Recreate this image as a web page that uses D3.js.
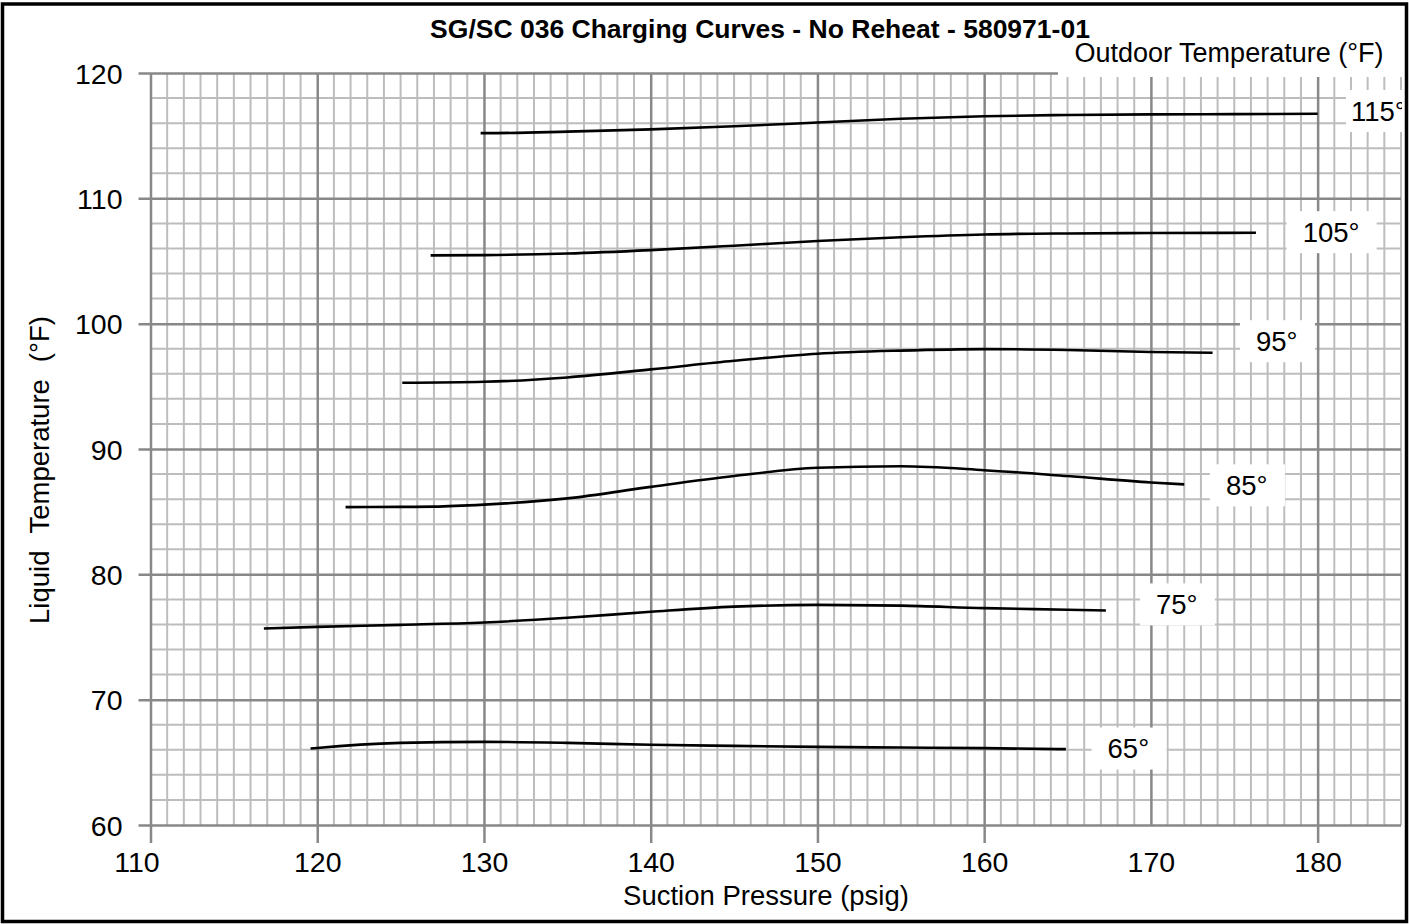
<!DOCTYPE html>
<html>
<head>
<meta charset="utf-8">
<script src="https://cdn.jsdelivr.net/npm/d3@7"></script>
<style>
  html, body { margin: 0; padding: 0; background: #fff; }
  svg { display: block; font-family: "Liberation Sans", Arial, sans-serif; }
</style>
</head>
<body>
<svg id="chart" width="1409" height="924"></svg>
<script>
// ---------------- data ----------------
const title = "SG/SC 036 Charging Curves - No Reheat - 580971-01";
const xTitle = "Suction Pressure (psig)";
const yTitleWords = ["Liquid", "Temperature", "(°F)"];
const legendTitle = "Outdoor Temperature (°F)";

const xTicks = [110, 120, 130, 140, 150, 160, 170, 180];
const yTicks = [60, 70, 80, 90, 100, 110, 120];

const outdoorTemps = ["115", "105°", "95°", "85°", "75°", "65°"];

// suction pressure (psig) of each curve point
const pressure115 = [129.8, 130, 135, 140, 145, 150, 155, 160, 165, 170, 175, 180];
const liquid115   = [115.2, 115.2, 115.32, 115.5, 115.75, 116.05, 116.35, 116.55, 116.65, 116.7, 116.72, 116.75];

const pressure105 = [126.8, 130, 135, 140, 145, 150, 155, 160, 165, 170, 176.3];
const liquid105   = [105.45, 105.47, 105.6, 105.87, 106.22, 106.6, 106.9, 107.12, 107.2, 107.23, 107.25];

const pressure95 = [125.1, 130, 135, 140, 145, 150, 155, 160, 165, 170, 173.7];
const liquid95   = [95.28, 95.36, 95.71, 96.35, 97.04, 97.6, 97.85, 97.97, 97.9, 97.74, 97.68];

const pressure85 = [121.7, 125, 127, 130, 135, 140, 145, 150, 155, 160, 165, 170, 172];
const liquid85   = [85.36, 85.38, 85.4, 85.56, 86.06, 86.98, 87.84, 88.5, 88.62, 88.31, 87.84, 87.33, 87.18];

const pressure75 = [116.8, 120, 125, 130, 135, 140, 145, 150, 155, 160, 165, 167.3];
const liquid75   = [75.68, 75.81, 75.97, 76.16, 76.53, 77.01, 77.42, 77.56, 77.5, 77.3, 77.18, 77.12];

const pressure65 = [119.6, 120, 125, 130, 135, 140, 145, 150, 155, 160, 164.9];
const liquid65   = [66.1, 66.15, 66.55, 66.63, 66.55, 66.4, 66.31, 66.23, 66.18, 66.13, 66.05];

// where each outdoor-temperature label sits (psig of its left edge, °F of its centre)
const labelPressure = [182.0, 179.1, 176.3, 174.5, 170.3, 167.4];
const labelLiquid   = [116.97, 107.3, 98.6, 87.1, 77.6, 66.1];

// ---------------- drawing ----------------
const W = 1409, H = 924;
const margin = { left: 150.5, right: 8, top: 73, bottom: 99 };
const svg = d3.select("#chart");

const x = d3.scaleLinear().domain([110, 185]).range([margin.left, W - margin.right]);
const y = d3.scaleLinear().domain([60, 120]).range([H - margin.bottom, margin.top]);

const x0 = x(110), x1 = x(185), y0 = y(60), y1 = y(120);

svg.append("defs").append("clipPath").attr("id", "plotclip")
  .append("rect").attr("x", x0).attr("y", y1 - 30).attr("width", x1 - x0 + 1).attr("height", y0 - y1 + 30);

const grid = svg.append("g");

// minor vertical lines (every 1 psig)
const minorX = d3.range(111, 186).filter(v => v % 10 !== 0);
grid.selectAll(".vminor").data(minorX).join("line")
  .attr("x1", d => x(d)).attr("x2", d => x(d))
  .attr("y1", y1).attr("y2", y0)
  .attr("stroke", "#bdbdbd").attr("stroke-width", 2);

// minor horizontal lines (every 2 °F)
const minorY = d3.range(62, 120, 2).filter(v => v % 10 !== 0);
grid.selectAll(".hminor").data(minorY).join("line")
  .attr("x1", x0).attr("x2", x1)
  .attr("y1", d => y(d)).attr("y2", d => y(d))
  .attr("stroke", "#bdbdbd").attr("stroke-width", 2);

// major grid + axes built with d3 axes
const xAxis = d3.axisBottom(x).tickValues(xTicks).tickSize(0).tickPadding(0).tickFormat(d3.format("d"));
const yAxis = d3.axisLeft(y).tickValues(yTicks).tickSize(0).tickPadding(0).tickFormat(d3.format("d"));

const xg = svg.append("g").attr("transform", `translate(0,${y0})`).call(xAxis);
xg.select(".domain").remove();
xg.selectAll(".tick line").attr("y1", -(y0 - y1)).attr("y2", d => d === 170 ? 0 : 18)
  .attr("stroke", "#888888").attr("stroke-width", 2.5);
xg.selectAll(".tick text").attr("y", 47).attr("dy", null)
  .attr("x", d => d === 110 ? -14 : 0)
  .attr("font-size", 28.5).attr("fill", "#000").attr("font-family", "Liberation Sans, Arial, sans-serif");

const yg = svg.append("g").attr("transform", `translate(${x0},0)`).call(yAxis);
yg.select(".domain").remove();
yg.selectAll(".tick line").attr("x1", -12).attr("x2", x1 - x0)
  .attr("stroke", "#888888").attr("stroke-width", 2.5);
yg.selectAll(".tick text").attr("x", -28).attr("dy", "0.36em")
  .attr("font-size", 28.5).attr("fill", "#000").attr("font-family", "Liberation Sans, Arial, sans-serif");

// legend title with white background
const lgX = 1058;
svg.append("rect").attr("x", lgX).attr("y", 38).attr("width", x1 - lgX + 2).attr("height", 39).attr("fill", "#fff");
svg.append("text").attr("x", 1229).attr("y", 62).attr("text-anchor", "middle")
  .attr("font-size", 27).attr("fill", "#000").text(legendTitle);

// curves
const series = [
  [pressure115, liquid115],
  [pressure105, liquid105],
  [pressure95, liquid95],
  [pressure85, liquid85],
  [pressure75, liquid75],
  [pressure65, liquid65]
];
const line = d3.line().x(d => x(d[0])).y(d => y(d[1])).curve(d3.curveMonotoneX);
svg.append("g").selectAll("path").data(series).join("path")
  .attr("d", s => line(s[0].map((p, i) => [p, s[1][i]])))
  .attr("fill", "none").attr("stroke", "#000").attr("stroke-width", 2.6)
  .attr("stroke-linecap", "butt");

// outdoor temperature labels
const lab = svg.append("g").attr("clip-path", "url(#plotclip)");
const labels = outdoorTemps.map((t, i) => ({ t, px: labelPressure[i], ly: labelLiquid[i] }));
const lg = lab.selectAll("g").data(labels).join("g")
  .attr("transform", d => `translate(${x(d.px)},${y(d.ly)})`);
lg.append("rect").attr("x", d => d.t === "115" ? -5 : -16).attr("y", -21).attr("height", 42)
  .attr("width", d => d.t === "115" ? 70 : d.t.length * 15 + 30)
  .attr("fill", "#fff");
lg.append("text").attr("x", 0).attr("dy", "0.36em").attr("font-size", 27.5).attr("fill", "#000")
  .text(d => d.t === "115" ? "115°" : d.t);

// title
svg.append("text").attr("x", 760).attr("y", 38).attr("text-anchor", "middle")
  .attr("font-size", 26.5).attr("font-weight", "bold").attr("fill", "#000").text(title);

// axis titles
svg.append("text").attr("x", 766).attr("y", 905).attr("text-anchor", "middle")
  .attr("font-size", 27.5).attr("fill", "#000").text(xTitle);

// y title: three words with double-space gaps, centred at y=470
const yt = svg.append("g").attr("transform", "translate(49,0) rotate(-90)");
const words = yt.selectAll("text").data(yTitleWords).join("text")
  .attr("font-size", 27.5).attr("fill", "#000").text(d => d);
const lens = [];
words.each(function () { lens.push(this.getComputedTextLength()); });
const gap = 17;
const total = d3.sum(lens) + gap * (lens.length - 1);
let pos = -470 - total / 2;
words.attr("x", (d, i) => { const p = pos; pos += lens[i] + gap; return p; }).attr("y", 0);

// outer frame
svg.append("rect").attr("x", 2.5).attr("y", 4).attr("width", W - 5).attr("height", H - 6.5)
  .attr("fill", "none").attr("stroke", "#000").attr("stroke-width", 3.5);
</script>
</body>
</html>
